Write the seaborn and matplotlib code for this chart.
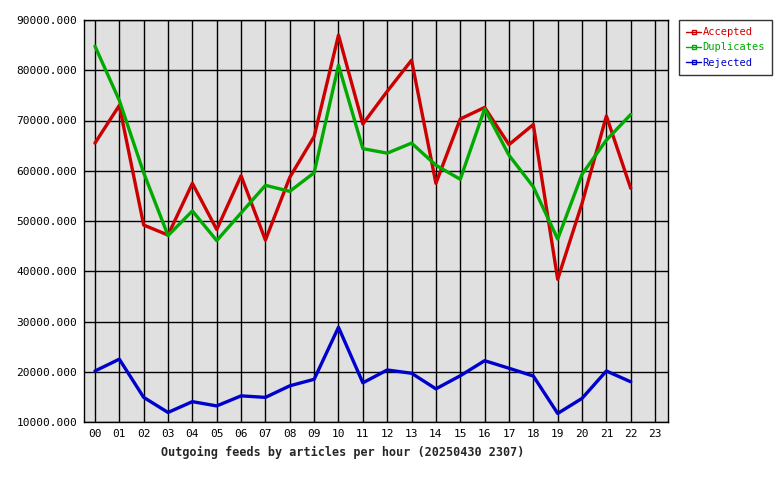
import numpy as np
import pandas as pd
import matplotlib
matplotlib.use("Agg")
import matplotlib.pyplot as plt
import seaborn as sns
from matplotlib.lines import Line2D

# hours shown on the x axis
hours = ["%02d" % h for h in range(24)]

# values (hours 00..22)
accepted = [65500, 73000, 49200, 47200, 57500, 48300, 59000, 46200, 58700, 66800,
            87000, 69300, 75800, 82000, 57500, 70300, 72600, 65200, 69200, 38400,
            53500, 70900, 56500]
duplicates = [84800, 74000, 59600, 47100, 52000, 46100, 51600, 57100, 55900, 59600,
              81000, 64400, 63500, 65500, 61100, 58300, 72300, 63100, 56800, 46400,
              59300, 66100, 71200]
rejected = [20150, 22500, 14900, 11900, 14050, 13200, 15200, 14900, 17200, 18500,
            28850, 17800, 20350, 19700, 16600, 19200, 22200, 20700, 19150, 11700,
            14700, 20150, 18000]

series_names = ["Accepted", "Duplicates", "Rejected"]
colors = ["#cc0000", "#00aa00", "#0000cc"]

n = len(accepted)
df = pd.DataFrame({
    "hour": list(range(n)) * 3,
    "value": accepted + duplicates + rejected,
    "series": [series_names[0]] * n + [series_names[1]] * n + [series_names[2]] * n,
})

sns.set_style("white")
plt.rcParams["font.family"] = ["DejaVu Sans Mono"]

fig = plt.figure(figsize=(7.8, 4.8), dpi=100)
ax = fig.add_axes([84 / 780, 58 / 480, 584 / 780, 402 / 480])
ax.set_facecolor("#e0e0e0")

sns.lineplot(data=df, x="hour", y="value", hue="series", palette=colors,
             linewidth=2.4, legend=False, ax=ax, zorder=3)

ax.set_xlim(-0.45, 23.53)
ax.set_ylim(10000, 90000)
ax.set_xticks(range(24))
ax.set_xticklabels(hours)
yt = np.arange(10000, 90001, 10000)
ax.set_yticks(yt)
ax.set_yticklabels(["%.3f" % v for v in yt])
ax.tick_params(axis="both", length=0, labelsize=8, colors="black", pad=5)
ax.grid(True, color="black", linewidth=1)
ax.set_axisbelow(True)
for s in ax.spines.values():
    s.set_color("black")
    s.set_linewidth(1)
ax.set_xlabel("")
ax.set_ylabel("")

fig.text(343 / 780, 1 - 452 / 480, "Outgoing feeds by articles per hour (20250430 2307)",
         ha="center", va="center", fontsize=8.5, fontweight="bold")

handles = [Line2D([0], [0], color=c, linewidth=1, marker="s", markersize=3,
                  markerfacecolor="none", markeredgecolor=c) for c in colors]
leg = fig.legend(handles, series_names, loc="upper left",
                 bbox_to_anchor=(679 / 780, 1 - 20 / 480), borderaxespad=0,
                 fontsize=7.5, frameon=True, fancybox=False, edgecolor="black",
                 handlelength=1.4, handletextpad=0.15, labelspacing=0.5,
                 borderpad=0.7, labelcolor="linecolor")
leg.get_frame().set_linewidth(1)

fig.savefig("out.png", dpi=100)
